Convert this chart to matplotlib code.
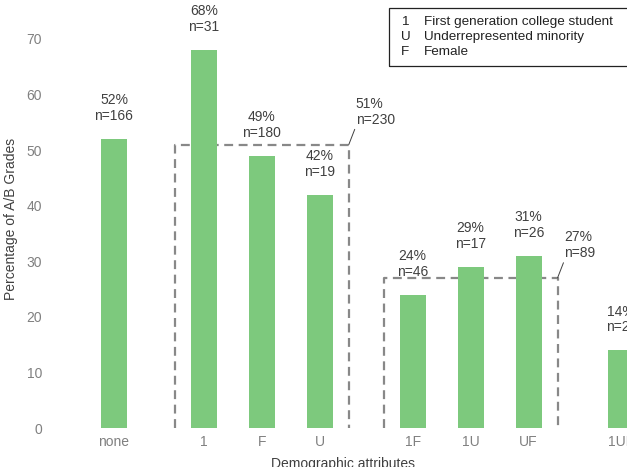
import matplotlib
matplotlib.use("Agg")
import matplotlib.pyplot as plt
from matplotlib.patches import Rectangle

plt.rcParams["font.family"] = ["Liberation Sans", "DejaVu Sans"]

# ── Data ──────────────────────────────────────────────────────────────────────
categories = ["none", "1", "F", "U", "1F", "1U", "UF", "1UF"]
pct        = [52, 68, 49, 42, 24, 29, 31, 14]
counts     = [166, 31, 180, 19, 46, 17, 26, 21]
positions  = [0, 1.55, 2.55, 3.55, 5.15, 6.15, 7.15, 8.75]

# grouped boxes: (first category, last category, pct, n)
groups = [("1", "U", 51, 230), ("1F", "UF", 27, 89)]

legend_keys  = ["1", "U", "F"]
legend_texts = ["First generation college student",
                "Underrepresented minority",
                "Female"]

BAR_COLOR  = "#7dc97d"
BOX_COLOR  = "#888888"
TEXT_COLOR = "#404040"
TICK_COLOR = "#808080"

# ── Figure ────────────────────────────────────────────────────────────────────
fig = plt.figure(figsize=(6.27, 4.67), dpi=100)
ax = fig.add_axes([0.0893, 0.0835, 0.971, 0.833])

ax.bar(positions, pct, width=0.45, color=BAR_COLOR, zorder=3)

for x, p, n in zip(positions, pct, counts):
    ax.annotate(f"{p}%\nn={n}", xy=(x, p), xytext=(0, 16),
                textcoords="offset pixels", ha="center", va="bottom",
                fontsize=10, color=TEXT_COLOR, linespacing=1.15,
                annotation_clip=False)

for first, last, p, n in groups:
    x0 = positions[categories.index(first)] - 0.5
    x1 = positions[categories.index(last)] + 0.5
    ax.plot([x0, x0, x1, x1], [0, p, p, 0], color=BOX_COLOR, lw=1.6,
            linestyle=(0, (4, 2.5)), zorder=2, clip_on=False)
    ax.annotate(f"{p}%\nn={n}", xy=(x1, p), xytext=(7, 18),
                textcoords="offset pixels", ha="left", va="bottom",
                fontsize=10, color=TEXT_COLOR, linespacing=1.15,
                annotation_clip=False,
                arrowprops=dict(arrowstyle="-", color=TEXT_COLOR, lw=0.7,
                                shrinkA=0, shrinkB=0, relpos=(0, 0)))

ax.set_xlim(-1.0, 9.5)
ax.set_ylim(0, 70)
ax.set_yticks(range(0, 71, 10))
ax.set_xticks(positions)
ax.set_xticklabels(categories)
ax.tick_params(length=0, labelsize=10, colors=TICK_COLOR)
ax.tick_params(axis="y", pad=10)
ax.tick_params(axis="x", pad=5)
for s in ax.spines.values():
    s.set_visible(False)

ax.set_ylabel("Percentage of A/B Grades", fontsize=10, color=TEXT_COLOR)
ax.yaxis.set_label_coords(-0.062, 0.537)
ax.set_xlabel("Demographic attributes", fontsize=10, color=TEXT_COLOR)
ax.xaxis.set_label_coords(0.471, -0.075)

# ── Legend box (key text) ─────────────────────────────────────────────────────
fig.patches.append(Rectangle((389 / 627, 1 - 66 / 467), 0.45, 58 / 467,
                             transform=fig.transFigure, fill=False,
                             edgecolor="#222222", lw=0.9))
for i, (k, t) in enumerate(zip(legend_keys, legend_texts)):
    y = 1 - (22 + i * 15) / 467
    fig.text(401 / 627, y, k, fontsize=9.7, color="#222222", va="center")
    fig.text(424 / 627, y, t, fontsize=9.7, color="#222222", va="center")

fig.savefig("out.png", dpi=100)
